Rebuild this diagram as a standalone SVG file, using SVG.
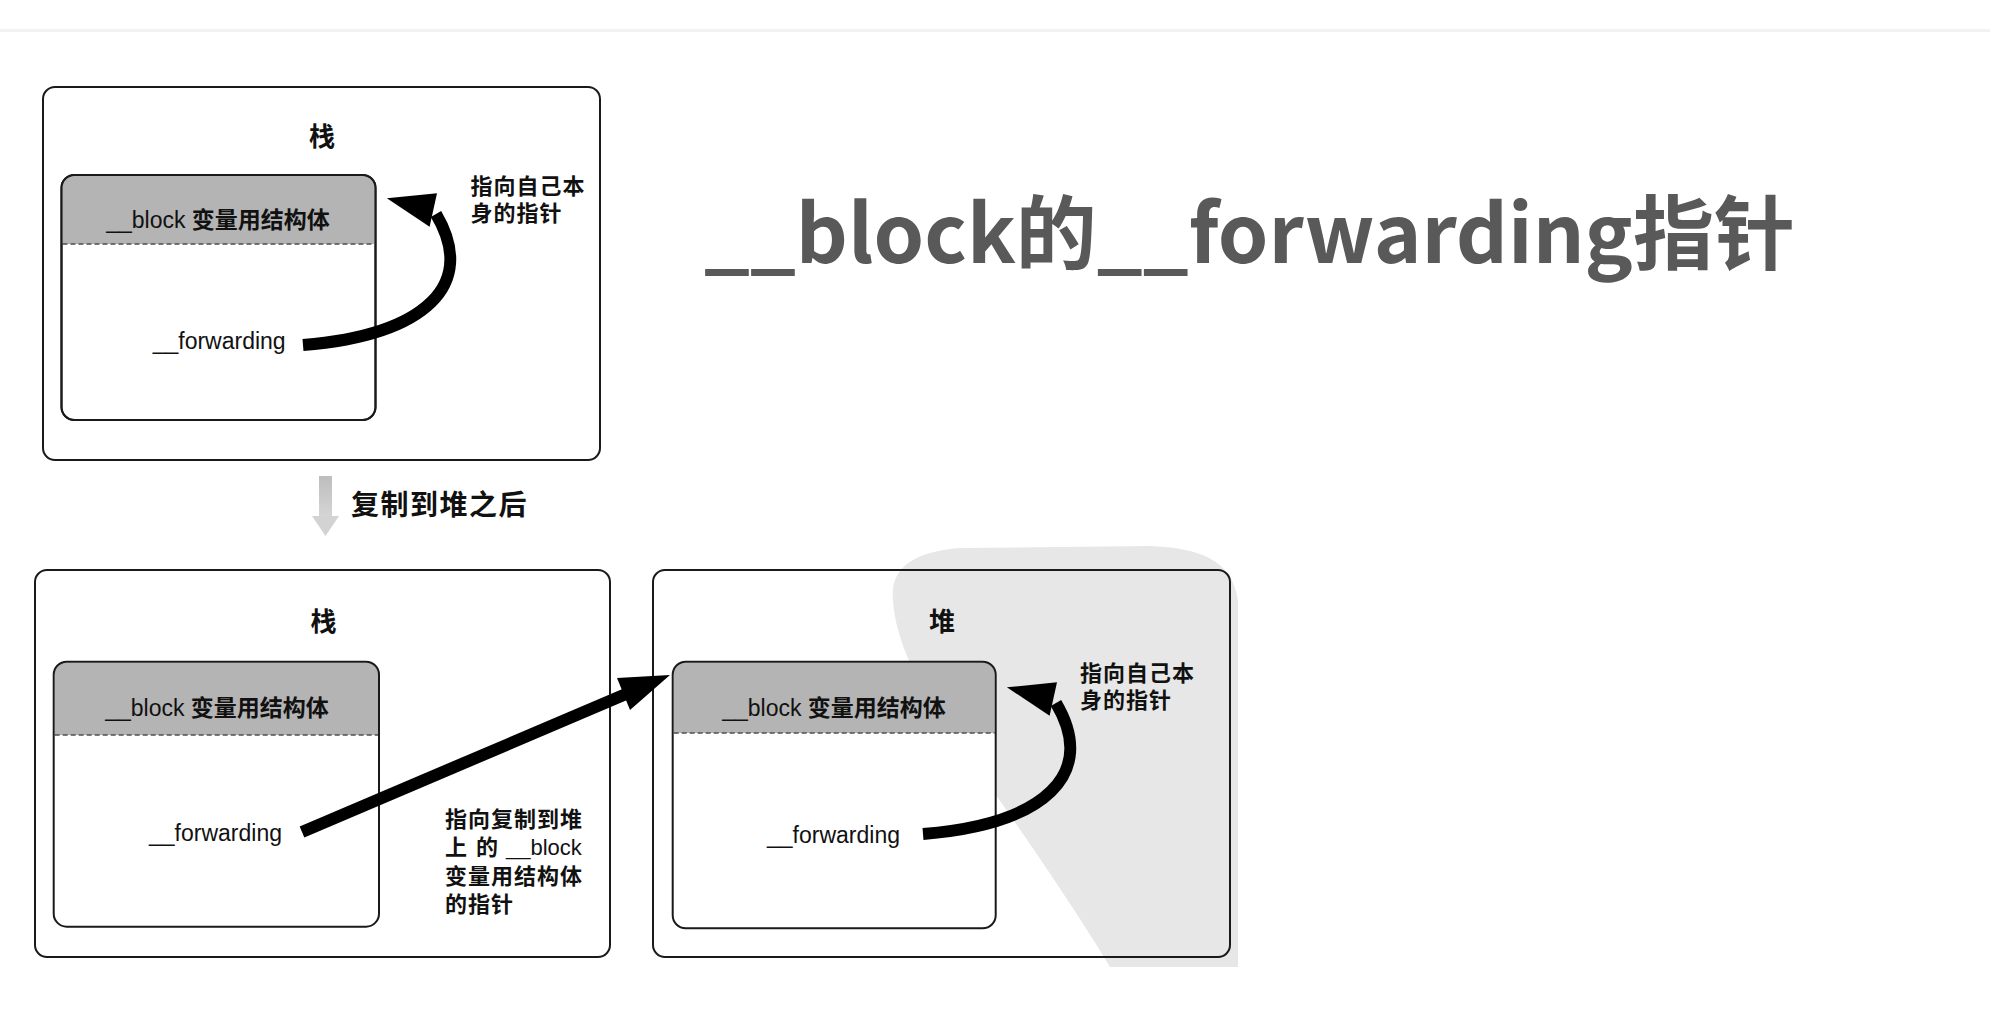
<svg xmlns="http://www.w3.org/2000/svg" width="1990" height="1012" viewBox="0 0 1990 1012">
<style>
.outer{fill:none;stroke:#1a1a1a;stroke-width:2}
.inner{fill:#fff;stroke:#1a1a1a;stroke-width:2}
.hdr{fill:#b4b4b4}
.dash{stroke:#4d4d4d;stroke-width:1.5;stroke-dasharray:5 3;fill:none}
.lat{font-family:"Liberation Sans","Noto Sans CJK SC",sans-serif;font-size:23px;fill:#111}
.cjk{font-family:"Noto Sans CJK SC",sans-serif;font-weight:bold;fill:#111}
.ttl{font-family:"Noto Sans CJK SC",sans-serif;font-weight:bold;font-size:26px;fill:#111;text-anchor:middle}
.note{font-family:"Noto Sans CJK SC","Liberation Sans",sans-serif;font-weight:bold;font-size:22px;letter-spacing:1px;fill:#111}
.arrow{fill:none;stroke:#000;stroke-width:12}
.head{fill:#000}
</style>
<defs>
<linearGradient id="gd" x1="0" y1="0" x2="0" y2="1">
<stop offset="0" stop-color="#bdbdbd"/>
<stop offset="1" stop-color="#d6d6d6"/>
</linearGradient>
</defs>
<rect x="0" y="0" width="1990" height="1012" fill="#fff"/>
<rect x="0" y="29" width="1990" height="3" fill="#f2f2f2"/>

<!-- watermark -->
<path d="M893,600 C890,570 910,552 960,548 L1150,546 C1200,548 1232,560 1238,600 L1238,967 L1110,967 C1070,900 1000,800 950,730 C920,690 895,640 893,600 Z" fill="#e7e7e7"/>

<g id="title">
<text x="704" y="263" font-family="'Noto Sans CJK SC',sans-serif" font-weight="bold" font-size="81" fill="#595959">__block的__forwarding指针</text>
</g>

<g id="node-stack-before">
<rect class="outer" x="43" y="87" width="557" height="373" rx="12"/>
<text class="ttl" x="322" y="146">栈</text>
<rect class="inner" x="61.5" y="175" width="314" height="245" rx="13"/>
<path class="hdr" d="M62.5,244 V188 Q62.5,176 74.5,176 H362.5 Q374.5,176 374.5,188 V244 Z"/>
<line class="dash" x1="62.5" y1="244" x2="374.5" y2="244"/>
<rect x="61.5" y="175" width="314" height="245" rx="13" fill="none" stroke="#1a1a1a" stroke-width="2"/>
<text class="lat" x="218" y="228" text-anchor="middle">__block <tspan class="cjk">变量用结构体</tspan></text>
<text class="lat" x="152.7" y="349">__forwarding</text>
<text class="note" x="470.5" y="194">指向自己本</text>
<text class="note" x="470.5" y="221">身的指针</text>
</g>

<g id="node-copy-step">
<rect x="319" y="476" width="13" height="42" fill="url(#gd)"/>
<polygon points="312,516 339,516 325.5,536" fill="#d3d3d3"/>
<text x="351" y="515" font-family="'Noto Sans CJK SC',sans-serif" font-weight="bold" font-size="28" letter-spacing="1.5" fill="#111">复制到堆之后</text>
</g>

<g id="node-stack-after">
<rect class="outer" x="35" y="570" width="575" height="387" rx="12"/>
<text class="ttl" x="323.6" y="631">栈</text>
<rect x="53.7" y="661.7" width="325.3" height="265" rx="13" fill="#fff"/>
<path class="hdr" d="M54.7,735 V674.7 Q54.7,662.7 66.7,662.7 H366 Q378,662.7 378,674.7 V735 Z"/>
<line class="dash" x1="54.7" y1="735" x2="378" y2="735"/>
<rect x="53.7" y="661.7" width="325.3" height="265" rx="13" fill="none" stroke="#1a1a1a" stroke-width="2"/>
<text class="lat" x="217" y="716" text-anchor="middle">__block <tspan class="cjk">变量用结构体</tspan></text>
<text class="lat" x="149" y="841">__forwarding</text>
<text class="note" x="445" y="826.5" font-size="23">指向复制到堆</text>
<text class="note" x="445" y="855" font-size="23">上<tspan x="476">的</tspan><tspan x="506" font-family="'Liberation Sans',sans-serif" font-weight="normal" letter-spacing="0">__block</tspan></text>
<text class="note" x="445" y="883.5" font-size="23">变量用结构体</text>
<text class="note" x="445" y="911.5" font-size="23">的指针</text>
</g>

<g id="node-heap">
<rect class="outer" x="653" y="570" width="577" height="387" rx="12"/>
<text class="ttl" x="942" y="631">堆</text>
<rect x="672.7" y="661.7" width="323" height="266.6" rx="13" fill="#fff"/>
<path class="hdr" d="M673.7,733 V674.7 Q673.7,662.7 685.7,662.7 H982.7 Q994.7,662.7 994.7,674.7 V733 Z"/>
<line class="dash" x1="673.7" y1="733" x2="994.7" y2="733"/>
<rect x="672.7" y="661.7" width="323" height="266.6" rx="13" fill="none" stroke="#1a1a1a" stroke-width="2"/>
<text class="lat" x="834" y="716" text-anchor="middle">__block <tspan class="cjk">变量用结构体</tspan></text>
<text class="lat" x="767" y="843">__forwarding</text>
<text class="note" x="1080" y="681">指向自己本</text>
<text class="note" x="1080" y="708">身的指针</text>
</g>

<g id="connectors">
<g id="self-pointer-stack">
<path class="arrow" d="M303,345 C425,335 478,285 436,214"/>
<polygon class="head" points="386.9,198.3 437,193.3 429.6,226.7"/>
</g>
<g id="self-pointer-heap" transform="translate(620,489)">
<path class="arrow" d="M303,345 C425,335 478,285 436,214"/>
<polygon class="head" points="386.9,198.3 437,193.3 429.6,226.7"/>
</g>
<g id="stack-to-heap">
<line class="arrow" x1="302" y1="832" x2="626" y2="694"/>
<polygon class="head" points="670,675 617,678 630,710"/>
</g>
</g>
</svg>
